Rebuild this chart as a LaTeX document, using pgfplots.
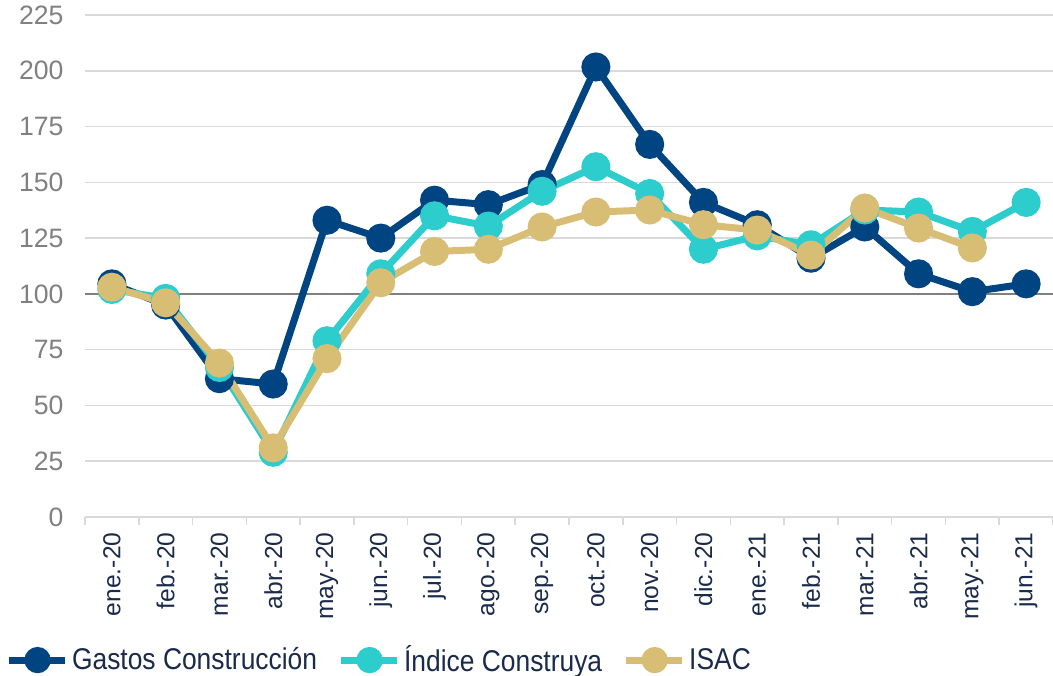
\documentclass[border=0pt]{standalone}
\usepackage{pgfplots}
\pgfplotsset{compat=1.18}
\usepackage{fontspec}
\setmainfont{Liberation Sans}
\newfontfamily\legfont[FakeStretch=0.88]{Liberation Sans}
\definecolor{gastos}{HTML}{004481}
\definecolor{indice}{HTML}{2DCCCD}
\definecolor{isac}{HTML}{D8BE75}
\definecolor{gridc}{HTML}{D9D9D9}
\definecolor{labc}{HTML}{808080}
\definecolor{navy}{HTML}{1A2A4A}

\begin{document}
\begin{tikzpicture}
\begin{axis}[scale only axis, width=484pt, height=251pt,
  xmin=-0.5, xmax=17.5, ymin=0, ymax=225,
  ytick={0,25,...,225},
  xtick={0,...,17},
  xticklabels={ene.-20,feb.-20,mar.-20,abr.-20,may.-20,jun.-20,jul.-20,ago.-20,sep.-20,oct.-20,nov.-20,dic.-20,ene.-21,feb.-21,mar.-21,abr.-21,may.-21,jun.-21},
  minor xtick={-0.5,0.5,...,17.5},
  major x tick style={draw=none},
  minor x tick style={draw=gridc, line width=0.8pt},
  minor tick length=4pt,
  tick align=outside,
  x tick label style={rotate=90, anchor=east, font=\fontsize{12.3}{14}\selectfont, text=navy},
  y tick label style={font=\fontsize{13.3}{15}\selectfont, text=labc},
  yticklabel style={xshift=-3pt},
  /pgf/number format/assume math mode=true,
  axis x line*=bottom, axis y line*=left,
  x axis line style={draw=gridc, line width=0.8pt, -},
  y axis line style={draw=none},
  ymajorgrids, grid style={gridc, line width=0.8pt},
  ytick style={draw=none},
  legend style={at={(-0.083,-0.285)}, anchor=west, draw=none, fill=none, inner sep=0pt,
    font=\legfont\fontsize{15}{17}\selectfont, text=navy, legend columns=3,
    /tikz/every even column/.append style={column sep=8pt}},
  legend image code/.code={\draw[#1, mark=none] (0pt,0pt) -- (28pt,0pt); \draw[#1, only marks, mark size=4.8pt] plot coordinates {(14.5pt,0pt)};},
  every axis plot/.append style={line width=3.5pt, mark=*, mark size=5.5pt},
  clip=false]
\addplot[forget plot, draw=gray, line width=1pt, mark=none] coordinates {(-0.5,100) (17.5,100)};
\addplot[gastos, mark options={fill=gastos}] coordinates {(0,104.5) (1,95) (2,62) (3,59.6) (4,133) (5,125) (6,142) (7,140) (8,149) (9,201.7) (10,167) (11,141) (12,131) (13,116) (14,130) (15,109) (16,101) (17,104.5)};
\addlegendentry{Gastos Construcción}
\addplot[indice, mark options={fill=indice}] coordinates {(0,102) (1,98) (2,67) (3,29) (4,79) (5,109) (6,135) (7,130.4) (8,146) (9,157) (10,145) (11,120) (12,126) (13,122) (14,137.6) (15,136.7) (16,128) (17,141)};
\addlegendentry{Índice Construya}
\addplot[isac, mark options={fill=isac}] coordinates {(0,103) (1,96) (2,69) (3,31) (4,71) (5,105) (6,119) (7,120) (8,130) (9,136.7) (10,137.6) (11,131) (12,128.6) (13,117.4) (14,138.5) (15,129.5) (16,120.6)};
\addlegendentry{ISAC}
\coordinate (bl) at (rel axis cs:0,0);
\coordinate (tr) at (rel axis cs:1,1);
\end{axis}
\pgfresetboundingbox
\path ([shift={(-42.5pt,-79pt)}]bl) rectangle ([shift={(0pt,7.5pt)}]tr);
\end{tikzpicture}
\end{document}
